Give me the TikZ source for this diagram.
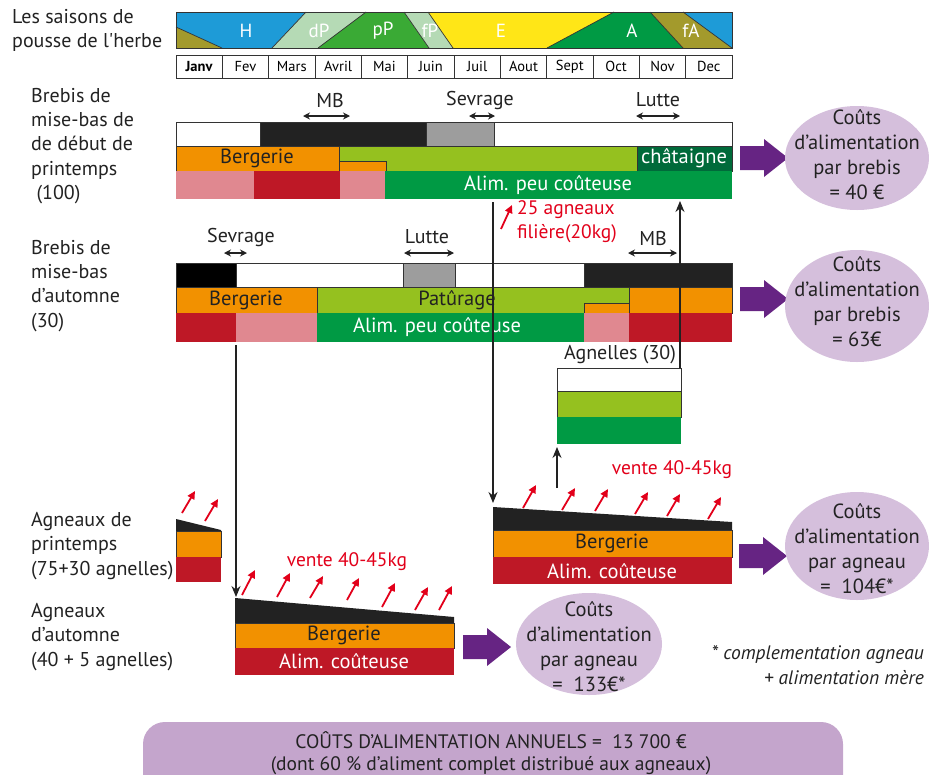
\documentclass[tikz,border=0pt]{standalone}
\usepackage{fontspec}
\setmainfont{PT Sans}
\usetikzlibrary{arrows.meta,shapes.geometric}
\definecolor{cblue}{HTML}{1E9BD7}
\definecolor{clgs}{HTML}{B5DAB5}
\definecolor{cpp}{HTML}{3AAA35}
\definecolor{cyel}{HTML}{FFE617}
\definecolor{cA}{HTML}{009A44}
\definecolor{colive}{HTML}{A39A2C}
\definecolor{corange}{HTML}{F29100}
\definecolor{cpat}{HTML}{95C11F}
\definecolor{cchat}{HTML}{006A3A}
\definecolor{cpink}{HTML}{E08890}
\definecolor{cred}{HTML}{BE1826}
\definecolor{cblk}{HTML}{222222}
\definecolor{cgray}{HTML}{9D9D9D}
\definecolor{cpurple}{HTML}{662483}
\definecolor{cell}{HTML}{D5BFDC}
\definecolor{cbox}{HTML}{C4A5CC}
\definecolor{ctxtred}{HTML}{E2001A}
\definecolor{cline}{HTML}{333333}
\newcommand\purplearrow[2]{\fill[cpurple] (#1-48,#2-12) -- (#1-24,#2-12) -- (#1-24,#2-19) -- (#1,#2) -- (#1-24,#2+19) -- (#1-24,#2+12) -- (#1-48,#2+12) -- cycle;}
\begin{document}
\begin{tikzpicture}[x=1pt,y=-1pt,
  lbl/.style={anchor=north west,align=left,inner sep=0pt,font=\fontsize{20}{24.3}\selectfont,text=cblk},
  seas/.style={text=white,font=\fontsize{19}{20}\selectfont,inner sep=0pt},
  month/.style={draw=cline,line width=0.8pt,minimum width=46.33pt,minimum height=23pt,inner sep=0pt,font=\fontsize{14.5}{16}\selectfont},
  cellb/.style={draw=cline,line width=0.8pt},
  bartxt/.style={font=\fontsize{20.5}{22}\selectfont,inner sep=0pt,text=cblk},
  ev/.style={font=\fontsize{20}{22}\selectfont,inner sep=0pt,text=cblk},
  dbl/.style={{Stealth[length=7pt,width=7pt]}-{Stealth[length=7pt,width=7pt]},line width=1.3pt,draw=cblk},
  vline/.style={-{Stealth[length=11pt,width=9pt]},line width=1.2pt,draw=cblk},
  redarr/.style={-{Triangle[length=8pt,width=7.5pt]},line width=1.8pt,draw=ctxtred},
  ellfill/.style={fill=cell},
  cost/.style={inner sep=0pt,align=center,font=\fontsize{20.5}{25}\selectfont,text=cblk},
  redtxt/.style={text=ctxtred,font=\fontsize{19.5}{24}\selectfont,inner sep=0pt,align=left}]
\useasboundingbox (0,0) rectangle (929,774);

% ---------- seasons ----------
\node[lbl] (lsais) at (12,9) {Les saisons de\\pousse de l\textquotesingle herbe};
\fill[colive] (176,27) -- (222,48) -- (176,48) -- cycle;
\fill[cblue] (176,12) -- (306,12) -- (272,48) -- (222,48) -- (176,27) -- cycle;
\fill[clgs] (306,12) -- (366,12) -- (318,48) -- (272,48) -- cycle;
\fill[cpp] (366,12) -- (404,12) -- (429,48) -- (318,48) -- cycle;
\fill[clgs] (404,12) -- (428,12) -- (453,48) -- (429,48) -- cycle;
\fill[cyel] (428,12) -- (614,12) -- (547,48) -- (453,48) -- cycle;
\fill[cA] (614,12) -- (650,12) -- (683,48) -- (547,48) -- cycle;
\fill[colive] (650,12) -- (683,12) -- (732,48) -- (683,48) -- cycle;
\fill[cblue] (683,12) -- (732,12) -- (732,48) -- cycle;
\draw[cline,line width=0.7pt] (176,27) -- (222,48) (306,12) -- (272,48) (366,12) -- (318,48)
  (404,12) -- (429,48) (428,12) -- (453,48) (614,12) -- (547,48) (650,12) -- (683,48)
  (683,12) -- (732,48);
\draw[cline,line width=0.8pt] (176,12) rectangle (732,48);
\node[seas] (sH) at (246,31) {H};
\node[seas] (sdP) at (319,31) {dP};
\node[seas] (spP) at (383,31) {pP};
\node[seas] (sfP) at (430,31) {fP};
\node[seas] (sE) at (501,31) {E};
\node[seas] (sA) at (632,31) {A};
\node[seas] (sfA) at (691,31) {fA};
\foreach \m [count=\i from 0] in {\textbf{Janv},Fev,Mars,Avril,Mai,Juin,Juil,Aout,Sept,Oct,Nov,Dec}
  \node[month] (m\i) at ({199.17+46.333*\i},66.5) {\m};

% ---------- brebis printemps ----------
\node[lbl] (lbp) at (31,88) {Brebis de\\mise-bas de\\de début de\\printemps\\\ (100)};
\filldraw[cellb,fill=white] (176,122) rectangle (260,146);
\filldraw[cellb,fill=cblk] (260,122) rectangle (426,146);
\filldraw[cellb,fill=cgray] (426,122) rectangle (494,146);
\filldraw[cellb,fill=white] (494,122) rectangle (732,146);
\filldraw[cellb,fill=corange] (176,146) rectangle (339,171);
\filldraw[cellb,fill=cpat] (339,146) rectangle (637,171);
\filldraw[cellb,fill=cchat] (637,146) rectangle (732,171);
\filldraw[cellb,fill=corange] (339,161) rectangle (386,171);
\fill[cpink] (176,171) rectangle (254,199);
\fill[cred] (254,171) rectangle (340,199);
\fill[cpink] (340,171) rectangle (385,199);
\fill[cA] (385,171) rectangle (732,199);
\node[bartxt] (tb1) at (257,158) {Bergerie};
\node[bartxt,text=white] (tch) at (684,158) {châtaigne};
\node[bartxt,text=white] (ta1) at (548,185) {Alim. peu coûteuse};
\node[ev] (tmb1) at (330,100) {MB};
\draw[dbl] (303,116) -- (350,116);
\node[ev] (tsv1) at (480,100) {Sevrage};
\draw[dbl] (469,116) -- (495,116);
\node[ev] (tlu1) at (658,100) {Lutte};
\draw[dbl] (636,116) -- (680,116);
\purplearrow{788}{158}
\path[ellfill] (857,158) ellipse [x radius=72pt, y radius=52pt];
\node[cost] (e1) at (857,155) {Coûts\\d’alimentation\\par brebis\\= 40 €};

% ---------- brebis automne ----------
\node[lbl] (lba) at (31,240) {Brebis de\\mise-bas\\d’automne\\(30)};
\filldraw[cellb,fill=black] (176,263) rectangle (236,287);
\filldraw[cellb,fill=white] (236,263) rectangle (403,287);
\filldraw[cellb,fill=cgray] (403,263) rectangle (455,287);
\filldraw[cellb,fill=white] (455,263) rectangle (584,287);
\filldraw[cellb,fill=cblk] (584,263) rectangle (732,287);
\filldraw[cellb,fill=corange] (176,287) rectangle (317,313);
\filldraw[cellb,fill=cpat] (317,287) rectangle (629,313);
\filldraw[cellb,fill=corange] (629,287) rectangle (732,313);
\filldraw[cellb,fill=corange] (584,303) rectangle (629,313);
\fill[cred] (176,313) rectangle (236,342);
\fill[cpink] (236,313) rectangle (317,342);
\fill[cA] (317,313) rectangle (584,342);
\fill[cpink] (584,313) rectangle (629,342);
\fill[cred] (629,313) rectangle (732,342);
\node[bartxt] (tb2) at (246,300) {Bergerie};
\node[bartxt] (tpat) at (457,300) {Patûrage};
\node[bartxt,text=white] (ta2) at (437,327) {Alim. peu coûteuse};
\node[ev] (tsv2) at (241,237) {Sevrage};
\draw[dbl] (224,253) -- (247,253);
\node[ev] (tlu2) at (427,237) {Lutte};
\draw[dbl] (404,253) -- (454,253);
\node[ev] (tmb2) at (653,238) {MB};
\draw[dbl] (628,253) -- (677,253);
\purplearrow{788}{299}
\path[ellfill] (857,306) ellipse [x radius=72pt, y radius=56pt];
\node[cost] (e2) at (857,302) {Coûts\\d’alimentation\\par brebis\\= 63€};

% red label 25 agneaux
\node[redtxt,anchor=north west] (t25) at (517,200) {25 agneaux\\filière(20kg)};
\draw[redarr] (501,229) -- (512,205);

% ---------- agnelles ----------
\node[ev] (tagn) at (620,355) {Agnelles (30)};
\filldraw[cellb,fill=white] (557,368) rectangle (681,391);
\filldraw[cellb,fill=cpat] (557,391) rectangle (681,417);
\fill[cA] (557,417) rectangle (681,444);
\coordinate (agtop) at (680,368);
\coordinate (r1b) at (680,201);
\draw[vline] (agtop) -- (r1b);
\coordinate (agbot) at (557,488);
\coordinate (agb) at (557,447);
\draw[vline] (agbot) -- (agb);

% ---------- agneaux de printemps ----------
\node[lbl] (lap) at (31,512) {Agneaux de\\printemps\\(75+30 agnelles)};
\fill[cblk] (176,519) -- (221,530) -- (221,531) -- (176,531) -- cycle;
\filldraw[cellb,fill=corange] (176,531) rectangle (221,557);
\fill[cred] (176,557) rectangle (221,582);
\draw[redarr] (182,513) -- (195,491);
\draw[redarr] (205,521) -- (218,499);

\coordinate (p1top) at (493,202);
\coordinate (p1bot) at (493,503);
\draw[vline] (p1top) -- (p1bot);
\fill[cblk] (493,507) -- (732,522) -- (732,530) -- (493,530) -- cycle;
\filldraw[cellb,fill=corange] (493,530) rectangle (732,557);
\fill[cred] (493,557) rectangle (732,584);
\node[bartxt] (tb3) at (612,543) {Bergerie};
\node[bartxt,text=white] (ta3) at (612,571) {Alim. coûteuse};
\node[redtxt] (tv1) at (672,470) {vente 40-45kg};
\draw[redarr] (523,508) -- (536,485);
\draw[redarr] (562,510) -- (575,488);
\draw[redarr] (595,511) -- (608,489);
\draw[redarr] (635,514) -- (648,492);
\draw[redarr] (667,516) -- (680,494);
\draw[redarr] (708,519) -- (721,497);
\purplearrow{787}{556}
\path[ellfill] (857,546) ellipse [x radius=72pt, y radius=54pt];
\node[cost] (e3) at (857,549) {Coûts\\d’alimentation\\par agneau\\=\ \ 104€*};

% ---------- agneaux d'automne ----------
\node[lbl] (laa) at (31,603) {Agneaux\\d’automne\\(40 + 5 agnelles)};
\coordinate (a1top) at (236,345);
\coordinate (a1bot) at (236,597);
\draw[vline] (a1top) -- (a1bot);
\fill[cblk] (235,598) -- (454,617) -- (454,623) -- (235,623) -- cycle;
\filldraw[cellb,fill=corange] (235,623) rectangle (454,648);
\fill[cred] (235,648) rectangle (454,675);
\node[bartxt] (tb4) at (344,635) {Bergerie};
\node[bartxt,text=white] (ta4) at (344,661) {Alim. coûteuse};
\node[redtxt] (tv2) at (347,562) {vente 40-45kg};
\draw[redarr] (242,595) -- (255,570);
\draw[redarr] (277,597) -- (290,573);
\draw[redarr] (310,598) -- (323,576);
\draw[redarr] (347,600) -- (359,578);
\draw[redarr] (382,607) -- (395,583);
\draw[redarr] (415,610) -- (428,587);
\draw[redarr] (439,610) -- (452,586);
\purplearrow{511}{647}
\path[ellfill] (589,644) ellipse [x radius=73pt, y radius=51pt];
\node[cost] (e4) at (589,647) {Coûts\\d’alimentation\\par agneau\\=\ \ 133€*};

\node[anchor=east,align=right,inner sep=0pt,font=\fontsize{19.5}{24.5}\selectfont\itshape,text=cblk] (fn) at (924,665) {* complementation agneau\\+ alimentation mère};

% ---------- bottom box ----------
\fill[cbox,rounded corners=22pt] (143,722) rectangle (843,800);
\node[align=center,inner sep=0pt,font=\fontsize{19.5}{22}\selectfont,text=cblk] (tot) at (491,753) {COÛTS D’ALIMENTATION ANNUELS =\ \ 13 700 €\\(dont 60 \% d’aliment complet distribué aux agneaux)};
\end{tikzpicture}
\end{document}
